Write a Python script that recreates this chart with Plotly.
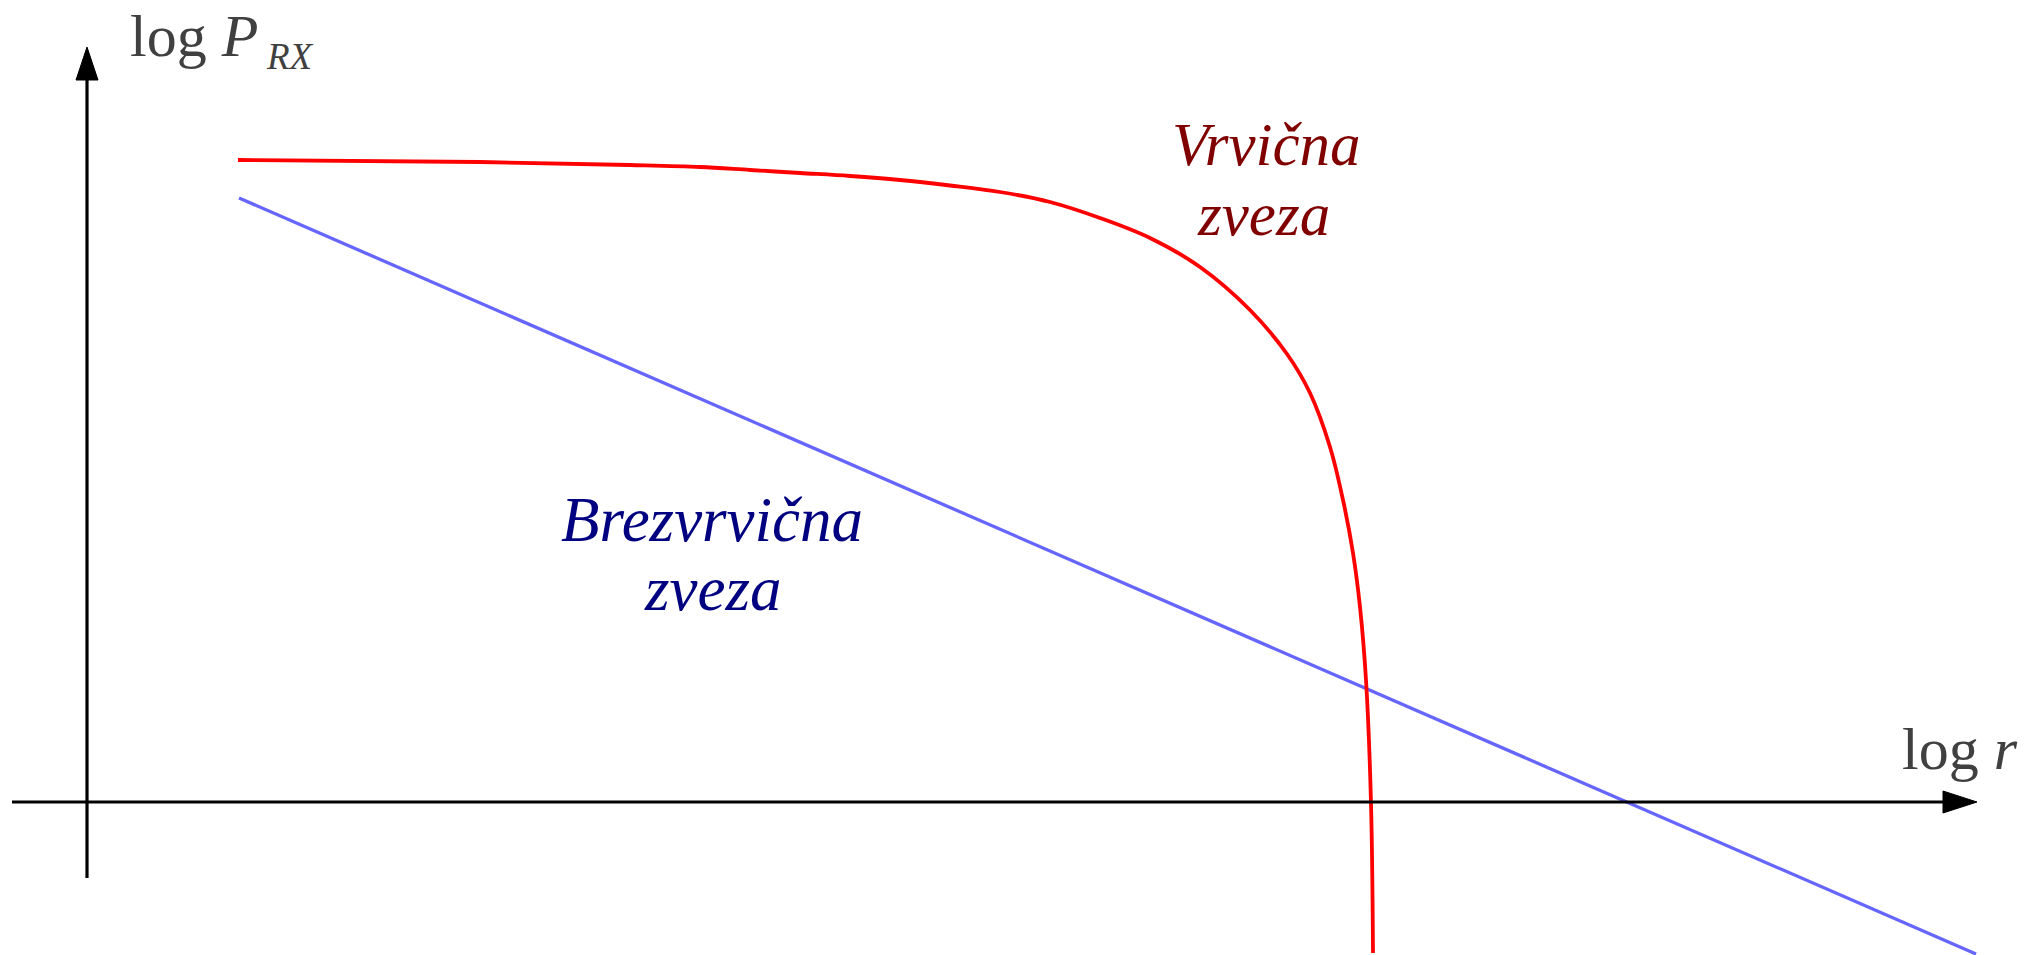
import plotly.graph_objects as go

# Schematic received power vs. distance (log-log), arbitrary units
# Line-of-sight link ("Brezvrvična zveza"): straight line in log-log
los_log_r = [1.52, 18.89]
los_log_p = [6.04, -1.52]

# Wired link ("Vrvična zveza"): flat, then a steep drop near the cut-off distance
wired_log_r = [1.51, 3.93, 5.43, 6.13, 6.63, 7.13, 7.63, 8.13, 8.63, 9.13,
               9.63, 10.13, 10.63, 11.13, 11.63, 12.00, 12.23, 12.43, 12.56,
               12.66, 12.73, 12.79, 12.84, 12.86]
wired_log_p = [6.42, 6.40, 6.37, 6.35, 6.32, 6.29, 6.26, 6.22, 6.165, 6.10,
               6.00, 5.84, 5.64, 5.35, 4.92, 4.48, 4.09, 3.55, 3.02,
               2.49, 1.95, 1.22, -0.01, -1.51]

X_RANGE = [-0.87, 19.42]
Y_RANGE = [-1.53, 8.02]
SERIF = "Liberation Serif"

fig = go.Figure()

fig.add_trace(go.Scatter(
    x=los_log_r, y=los_log_p, mode="lines",
    line=dict(color="#6666FF", width=3.3), hoverinfo="skip", showlegend=False,
))
fig.add_trace(go.Scatter(
    x=wired_log_r, y=wired_log_p, mode="lines",
    line=dict(color="#FF0000", width=3.8, shape="spline", smoothing=1.0),
    hoverinfo="skip", showlegend=False,
))

# Axes with arrowheads
shapes = [
    dict(type="line", x0=-0.75, x1=18.58, y0=0, y1=0,
         line=dict(color="black", width=3.2)),
    dict(type="line", x0=0, x1=0, y0=-0.76, y1=7.24,
         line=dict(color="black", width=3.2)),
    dict(type="path", path="M 18.90 0 L 18.56 0.11 L 18.56 -0.11 Z",
         fillcolor="black", line=dict(color="black", width=1)),
    dict(type="path", path="M 0 7.55 L -0.11 7.22 L 0.11 7.22 Z",
         fillcolor="black", line=dict(color="black", width=1)),
]

annotations = [
    dict(x=0.41, y=7.66, text="log <i>P</i>", xanchor="left", yanchor="middle",
         font=dict(family=SERIF, size=60, color="#404040")),
    dict(x=1.77, y=7.46, text="<i>RX</i>", xanchor="left", yanchor="middle",
         font=dict(family=SERIF, size=37, color="#404040")),
    dict(x=19.33, y=0.53, text="log <i>r</i>", xanchor="right", yanchor="middle",
         font=dict(family=SERIF, size=60, color="#404040")),
    dict(x=11.79, y=6.58, text="<i>Vrvična</i>", xanchor="center", yanchor="middle",
         font=dict(family=SERIF, size=61, color="#800000")),
    dict(x=11.76, y=5.88, text="<i>zveza</i>", xanchor="center", yanchor="middle",
         font=dict(family=SERIF, size=61, color="#800000")),
    dict(x=6.245, y=2.82, text="<i>Brezvrvična</i>", xanchor="center", yanchor="middle",
         font=dict(family=SERIF, size=63, color="#000080")),
    dict(x=6.25, y=2.13, text="<i>zveza</i>", xanchor="center", yanchor="middle",
         font=dict(family=SERIF, size=63, color="#000080")),
]
for a in annotations:
    a.update(xref="x", yref="y", showarrow=False)

fig.update_layout(
    width=2029, height=955, autosize=False,
    margin=dict(l=0, r=0, t=0, b=0, pad=0),
    paper_bgcolor="white", plot_bgcolor="white",
    xaxis=dict(range=X_RANGE, visible=False, showgrid=False, zeroline=False, fixedrange=True),
    yaxis=dict(range=Y_RANGE, visible=False, showgrid=False, zeroline=False, fixedrange=True),
    shapes=shapes, annotations=annotations, showlegend=False,
)

fig.write_html("out.html", config={"displayModeBar": False})
